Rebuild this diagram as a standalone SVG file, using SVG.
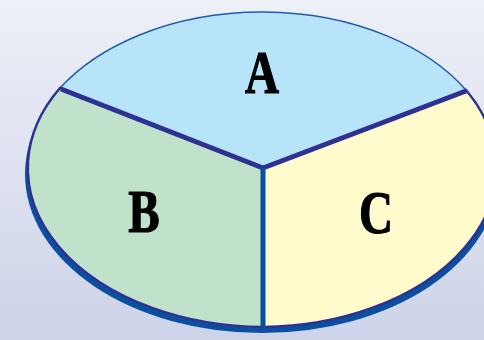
<svg xmlns="http://www.w3.org/2000/svg" width="484" height="340" viewBox="0 0 484 340">
<defs>
<linearGradient id="bg" x1="0" y1="0" x2="0" y2="1">
<stop offset="0" stop-color="#eef0f7"/>
<stop offset="1" stop-color="#cdd3e9"/>
</linearGradient>
</defs>
<style>
.lbl{font-family:"Liberation Serif","Times New Roman",serif;font-weight:bold;font-size:62px;fill:#000;stroke:#000;stroke-width:1.2;text-anchor:middle}
</style>
<rect x="0" y="0" width="484" height="340" fill="url(#bg)"/>
<ellipse cx="262" cy="174" rx="237" ry="159" fill="#0b50a0"/>
<g id="A">
<path d="M263,168 L60,88 A237,159 0 0,1 466,90 Z" fill="#b8e4f9" stroke="#1f5ba8" stroke-width="1.5"/>
<text class="lbl" transform="translate(262,93) scale(0.76,1)">A</text>
</g>
<g id="B">
<path d="M263,168 L263,327 A237,159 0 0,1 60,88 Z" fill="#c0e2cb" stroke="#2e3192" stroke-width="2.5"/>
<text class="lbl" transform="translate(144,232) scale(0.76,1)">B</text>
</g>
<g id="C">
<path d="M263,168 L466,90 A237,159 0 0,1 263,327 Z" fill="#fffbcd" stroke="#2e3192" stroke-width="2.5"/>
<text class="lbl" transform="translate(376,233) scale(0.76,1)">C</text>
</g>
<g id="connectors">
<line x1="61" y1="89" x2="263" y2="168" stroke="#2e3192" stroke-width="5"/>
<line x1="466" y1="91" x2="263" y2="168" stroke="#2e3192" stroke-width="5"/>
<line x1="263" y1="168" x2="263" y2="332" stroke="#0b50a0" stroke-width="5"/>
</g>
</svg>
